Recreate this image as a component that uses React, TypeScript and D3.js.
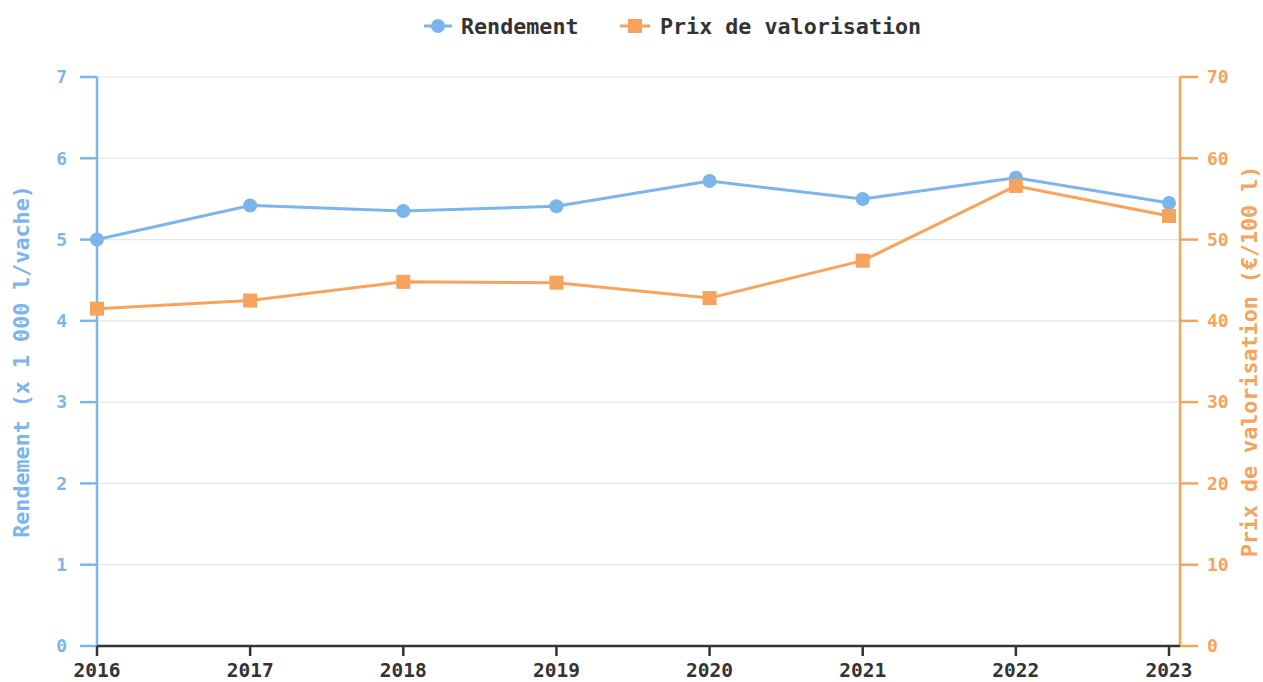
import React from 'react';
import * as d3 from 'd3';

const years = ['2016', '2017', '2018', '2019', '2020', '2021', '2022', '2023'];
const rendement = [5.0, 5.42, 5.35, 5.41, 5.72, 5.5, 5.76, 5.45];
const prix = [41.5, 42.5, 44.8, 44.7, 42.8, 47.4, 56.6, 52.9];
const leftTicks = [0, 1, 2, 3, 4, 5, 6, 7];
const rightTicks = [0, 10, 20, 30, 40, 50, 60, 70];

const W = 1263;
const H = 682;
const BLUE = '#7cb5ec';
const ORANGE = '#f7a35c';
const DARK = '#333333';
const FONT = '"DejaVu Sans Mono", monospace';

const App = () => {
  // plot area
  const left = 97;
  const right = 1180;
  const top = 77;
  const bottom = 646;

  const x = d3.scalePoint<string>().domain(years).range([left, 1169]);
  const yL = d3.scaleLinear().domain([0, 7]).range([bottom, top]);
  const yR = d3.scaleLinear().domain([0, 70]).range([bottom, top]);

  const lineL = d3.line<number>().x((_, i) => x(years[i])!).y(d => yL(d));
  const lineR = d3.line<number>().x((_, i) => x(years[i])!).y(d => yR(d));

  const midY = (top + bottom) / 2;

  return (
    <svg width={W} height={H} style={{ position: 'absolute', left: 0, top: 0, background: '#fff' }}
      fontFamily={FONT} fontWeight="bold">
      {/* grid */}
      {leftTicks.map(t => (
        <line key={'g' + t} x1={left} x2={right} y1={yL(t)} y2={yL(t)} stroke="#e6e6e6" strokeWidth={1.2} />
      ))}

      {/* left axis */}
      <line x1={left} x2={left} y1={top} y2={bottom} stroke={BLUE} strokeWidth={2.5} />
      {leftTicks.map(t => (
        <g key={'l' + t}>
          <line x1={left - 17} x2={left} y1={yL(t)} y2={yL(t)} stroke={BLUE} strokeWidth={2.5} />
          <text x={67} y={yL(t)} dy="0.35em" textAnchor="end" fill={BLUE} fontSize={18}>{t}</text>
        </g>
      ))}
      <text transform={`translate(29,${midY}) rotate(-90)`} textAnchor="middle" fill={BLUE} fontSize={21.7}>
        Rendement (x 1 000 l/vache)
      </text>

      {/* right axis */}
      <line x1={right} x2={right} y1={top} y2={bottom} stroke={ORANGE} strokeWidth={2.5} />
      {rightTicks.map(t => (
        <g key={'r' + t}>
          <line x1={right} x2={right + 18} y1={yR(t)} y2={yR(t)} stroke={ORANGE} strokeWidth={2.5} />
          <text x={1207} y={yR(t)} dy="0.35em" textAnchor="start" fill={ORANGE} fontSize={18}>{t}</text>
        </g>
      ))}
      <text transform={`translate(1257,${midY}) rotate(-90)`} textAnchor="middle" fill={ORANGE} fontSize={21.7}>
        Prix de valorisation (€/100 l)
      </text>

      {/* x axis */}
      <line x1={left} x2={right} y1={bottom} y2={bottom} stroke={DARK} strokeWidth={2.5} />
      {years.map(y => (
        <g key={'x' + y}>
          <line x1={x(y)} x2={x(y)} y1={bottom} y2={bottom + 10} stroke={DARK} strokeWidth={2.5} />
          <text x={x(y)} y={677} textAnchor="middle" fill={DARK} fontSize={19.5}>{y}</text>
        </g>
      ))}

      {/* series */}
      <path d={lineL(rendement)!} fill="none" stroke={BLUE} strokeWidth={3} />
      {rendement.map((v, i) => (
        <circle key={'c' + i} cx={x(years[i])} cy={yL(v)} r={7} fill={BLUE} />
      ))}
      <path d={lineR(prix)!} fill="none" stroke={ORANGE} strokeWidth={3} />
      {prix.map((v, i) => (
        <rect key={'s' + i} x={x(years[i])! - 7} y={yR(v) - 7} width={14} height={14} fill={ORANGE} />
      ))}

      {/* legend */}
      <g>
        <line x1={424} x2={452} y1={26} y2={26} stroke={BLUE} strokeWidth={3} />
        <circle cx={438} cy={26} r={7} fill={BLUE} />
        <text x={461} y={26} dy="0.35em" fill={DARK} fontSize={21.7}>Rendement</text>
        <line x1={620} x2={650} y1={26} y2={26} stroke={ORANGE} strokeWidth={3} />
        <rect x={628} y={19} width={14} height={14} fill={ORANGE} />
        <text x={660} y={26} dy="0.35em" fill={DARK} fontSize={21.7}>Prix de valorisation</text>
      </g>
    </svg>
  );
};

export default App;
